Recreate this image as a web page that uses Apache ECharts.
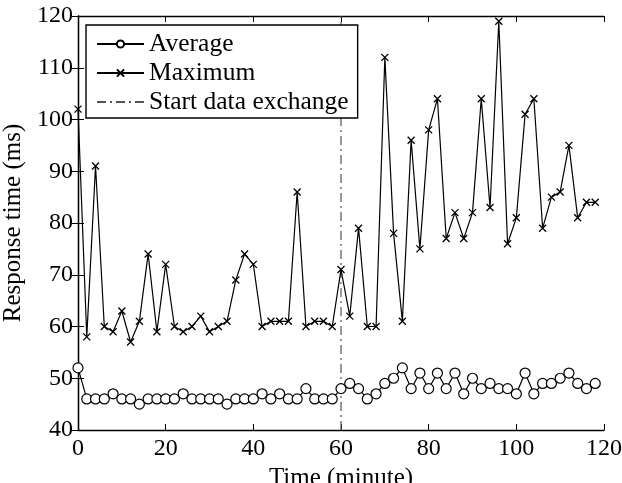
<!DOCTYPE html>
<html>
<head>
<meta charset="utf-8">
<script src="https://cdn.jsdelivr.net/npm/echarts@6/dist/echarts.min.js"></script>
<style>
  html, body { margin: 0; padding: 0; background: #fff; }
  #main { width: 622px; height: 483px; }
</style>
</head>
<body>
<div id="main"></div>
<script>
// sample times in minutes, one point every 2 minutes
const minutes = [0, 2, 4, 6, 8, 10, 12, 14, 16, 18, 20, 22, 24, 26, 28, 30, 32, 34, 36, 38,
  40, 42, 44, 46, 48, 50, 52, 54, 56, 58, 60, 62, 64, 66, 68, 70, 72, 74, 76, 78,
  80, 82, 84, 86, 88, 90, 92, 94, 96, 98, 100, 102, 104, 106, 108, 110, 112, 114, 116, 118]
const averageMs = [52, 46, 46, 46, 47, 46, 46, 45, 46, 46, 46, 46, 47, 46, 46, 46, 46, 45, 46, 46,
  46, 47, 46, 47, 46, 46, 48, 46, 46, 46, 48, 49, 48, 46, 47, 49, 50, 52, 48, 51,
  48, 51, 48, 51, 47, 50, 48, 49, 48, 48, 47, 51, 47, 49, 49, 50, 51, 49, 48, 49]
const maximumMs = [102, 58, 91, 60, 59, 63, 57, 61, 74, 59, 72, 60, 59, 60, 62, 59, 60, 61, 69, 74,
  72, 60, 61, 61, 61, 86, 60, 61, 61, 60, 71, 62, 79, 60, 60, 112, 78, 61, 96, 75,
  98, 104, 77, 82, 77, 82, 104, 83, 119, 76, 81, 101, 104, 79, 85, 86, 95, 81, 84, 84]
const exchangeStart = 60
const xTicks = [0, 20, 40, 60, 80, 100, 120]
const yRange = [40, 120]

const font = 'Liberation Serif'
const chart = echarts.init(document.getElementById('main'))

const zip = (xs, ys) => xs.map((x, i) => [x, ys[i]])

const tickAxis = {
  axisLine: { show: true, lineStyle: { color: '#000', width: 1.3 } },
  axisTick: { show: true, inside: true, length: 6, lineStyle: { color: '#000' } },
  splitLine: { show: false }
}

chart.setOption({
  animation: false,
  backgroundColor: '#fff',
  textStyle: { fontFamily: font, color: '#000' },
  grid: { left: 78, right: 18, top: 16, bottom: 53, outerBoundsMode: 'none', containLabel: false },
  legend: {
    orient: 'vertical',
    left: 86,
    top: 25,
    padding: [6, 9, 3, 10],
    itemGap: 3,
    itemWidth: 47,
    itemHeight: 9,
    backgroundColor: '#fff',
    borderColor: '#000',
    borderWidth: 1.4,
    textStyle: { fontFamily: font, fontSize: 25.5, color: '#000' },
    data: [
      'Average',
      'Maximum',
      { name: 'Start data exchange', itemStyle: { opacity: 0 } }
    ]
  },
  xAxis: [{
    type: 'value',
    min: xTicks[0],
    max: xTicks[xTicks.length - 1],
    interval: 20,
    name: 'Time (minute)',
    nameLocation: 'middle',
    nameGap: 34,
    nameTextStyle: { fontFamily: font, fontSize: 25, color: '#000' },
    axisLabel: { fontFamily: font, fontSize: 24, color: '#000', margin: 7 },
    ...tickAxis
  }, {
    type: 'value',
    position: 'top',
    min: xTicks[0],
    max: xTicks[xTicks.length - 1],
    interval: 20,
    axisLabel: { show: false },
    ...tickAxis
  }],
  yAxis: [{
    type: 'value',
    min: yRange[0],
    max: yRange[1],
    interval: 10,
    name: 'Response time (ms)',
    nameLocation: 'middle',
    nameGap: 46,
    nameTextStyle: { fontFamily: font, fontSize: 25, color: '#000' },
    axisLabel: { fontFamily: font, fontSize: 24, color: '#000', margin: 5 },
    ...tickAxis
  }, {
    type: 'value',
    position: 'right',
    min: yRange[0],
    max: yRange[1],
    interval: 10,
    axisLabel: { show: false },
    ...tickAxis
  }],
  series: [{
    name: 'Start data exchange',
    type: 'line',
    data: [[exchangeStart, yRange[0]], [exchangeStart, yRange[1]]],
    symbol: 'none',
    lineStyle: { color: '#555', width: 1.2, type: [9, 4, 2, 4] },
    itemStyle: { color: '#555' },
    z: 1
  }, {
    name: 'Average',
    type: 'line',
    data: zip(minutes, averageMs),
    symbol: 'circle',
    symbolSize: 10,
    showAllSymbol: true,
    lineStyle: { color: '#000', width: 1.2 },
    itemStyle: { color: '#fff', borderColor: '#000', borderWidth: 1.2 },
    z: 3
  }, {
    name: 'Maximum',
    type: 'line',
    data: zip(minutes, maximumMs),
    symbol: 'path://M0,0L10,10M10,0L0,10',
    symbolSize: 7,
    showAllSymbol: true,
    lineStyle: { color: '#000', width: 1.2 },
    itemStyle: { color: 'none', borderColor: '#000', borderWidth: 1.3 },
    z: 3
  }]
})
</script>
</body>
</html>
